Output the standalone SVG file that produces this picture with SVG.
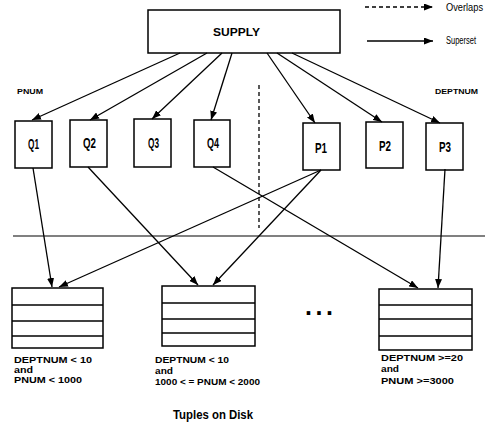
<svg xmlns="http://www.w3.org/2000/svg" width="485" height="429" viewBox="0 0 485 429">
<defs>
<marker id="ah" markerUnits="userSpaceOnUse" markerWidth="9" markerHeight="7" refX="9" refY="3.5" orient="auto"><path d="M0,0 L9,3.5 L0,7 z" fill="#000"/></marker>
<style>
.box{fill:#fff;stroke:#000;stroke-width:1.5}
.ln{stroke:#000;stroke-width:1.3;fill:none}
.arr{stroke:#000;stroke-width:1.3;fill:none;marker-end:url(#ah)}
.nl{font-family:"Liberation Sans",Arial,sans-serif;font-weight:bold;font-size:14px;fill:#000}
.lb{font-family:"Liberation Sans",Arial,sans-serif;font-weight:bold;font-size:9.5px;fill:#000}
.lg{font-family:"Liberation Sans",Arial,sans-serif;font-size:10px;fill:#000}
</style>
</defs>
<rect width="485" height="429" fill="#fff"/>
<g id="legend">
<line x1="365" y1="7" x2="433" y2="7" class="arr" stroke-dasharray="4,3"/>
<text x="446" y="11" class="lg" textLength="37" lengthAdjust="spacingAndGlyphs">Overlaps</text>
<line x1="367" y1="41" x2="433" y2="41" class="arr"/>
<text x="446" y="44" class="lg" textLength="30" lengthAdjust="spacingAndGlyphs">Superset</text>
</g>
<g id="supply">
<rect x="148" y="10" width="192" height="43" class="box"/>
<text x="213" y="36" class="lb" style="font-size:11.5px" textLength="47" lengthAdjust="spacingAndGlyphs">SUPPLY</text>
</g>
<text x="17" y="94" class="lb" style="font-size:8px" textLength="26" lengthAdjust="spacingAndGlyphs">PNUM</text>
<text x="435" y="94" class="lb" style="font-size:8px" textLength="43" lengthAdjust="spacingAndGlyphs">DEPTNUM</text>
<g id="Q1"><rect x="15" y="121" width="37" height="47" class="box"/><text x="28" y="149" class="nl" textLength="11" lengthAdjust="spacingAndGlyphs">Q1</text></g>
<g id="Q2"><rect x="70" y="120" width="37" height="47" class="box"/><text x="83" y="148" class="nl" textLength="13" lengthAdjust="spacingAndGlyphs">Q2</text></g>
<g id="Q3"><rect x="134" y="119" width="37" height="48" class="box"/><text x="148" y="148" class="nl" textLength="11" lengthAdjust="spacingAndGlyphs">Q3</text></g>
<g id="Q4"><rect x="194" y="120" width="36" height="47" class="box"/><text x="207" y="148" class="nl" textLength="12" lengthAdjust="spacingAndGlyphs">Q4</text></g>
<g id="P1"><rect x="303" y="123" width="37" height="47" class="box"/><text x="315" y="153" class="nl" textLength="12" lengthAdjust="spacingAndGlyphs">P1</text></g>
<g id="P2"><rect x="366" y="122" width="37" height="46" class="box"/><text x="379" y="151" class="nl" textLength="12" lengthAdjust="spacingAndGlyphs">P2</text></g>
<g id="P3"><rect x="426" y="123" width="37" height="47" class="box"/><text x="439" y="152" class="nl" textLength="12" lengthAdjust="spacingAndGlyphs">P3</text></g>
<g id="B1">
<rect x="12" y="288" width="91" height="60" class="box"/>
<line x1="12" y1="305" x2="103" y2="305" class="ln"/><line x1="12" y1="321" x2="103" y2="321" class="ln"/><line x1="12" y1="336" x2="103" y2="336" class="ln"/>
<text x="14" y="363" class="lb" textLength="78" lengthAdjust="spacingAndGlyphs">DEPTNUM &lt; 10</text>
<text x="14" y="373" class="lb" textLength="19" lengthAdjust="spacingAndGlyphs">and</text>
<text x="14" y="383" class="lb" textLength="68" lengthAdjust="spacingAndGlyphs">PNUM &lt; 1000</text>
</g>
<g id="B2">
<rect x="162" y="286" width="93" height="60" class="box"/>
<line x1="162" y1="303" x2="255" y2="303" class="ln"/><line x1="162" y1="319" x2="255" y2="319" class="ln"/><line x1="162" y1="333" x2="255" y2="333" class="ln"/>
<text x="155" y="363" class="lb" textLength="74" lengthAdjust="spacingAndGlyphs">DEPTNUM  &lt; 10</text>
<text x="155" y="374" class="lb" textLength="18" lengthAdjust="spacingAndGlyphs">and</text>
<text x="155" y="385" class="lb" textLength="105" lengthAdjust="spacingAndGlyphs">1000 &lt; = PNUM &lt; 2000</text>
</g>
<g id="B3">
<rect x="379" y="289" width="93" height="61" class="box"/>
<line x1="379" y1="305" x2="472" y2="305" class="ln"/><line x1="379" y1="319" x2="472" y2="319" class="ln"/><line x1="379" y1="336" x2="472" y2="336" class="ln"/>
<text x="381" y="361" class="lb" textLength="82" lengthAdjust="spacingAndGlyphs">DEPTNUM &gt;=20</text>
<text x="381" y="372" class="lb" textLength="18" lengthAdjust="spacingAndGlyphs">and</text>
<text x="381" y="384" class="lb" textLength="73" lengthAdjust="spacingAndGlyphs">PNUM &gt;=3000</text>
</g>
<text x="305" y="315" class="lb" style="font-size:25px" letter-spacing="3.6">...</text>
<text x="173" y="419" class="lb" style="font-size:12px" textLength="80" lengthAdjust="spacingAndGlyphs">Tuples on Disk</text>
<line x1="13" y1="236" x2="485" y2="236" stroke="#808080" stroke-width="2"/>
<line x1="259" y1="85" x2="259" y2="228" class="ln" stroke-width="1" stroke-dasharray="4,3"/>
<g id="connectors">
<line x1="180" y1="53" x2="32" y2="120" class="arr"/>
<line x1="207" y1="53" x2="90" y2="120" class="arr"/>
<line x1="222" y1="53" x2="152" y2="119" class="arr"/>
<line x1="232" y1="53" x2="211" y2="120" class="arr"/>
<line x1="267" y1="53" x2="315" y2="123" class="arr"/>
<line x1="277" y1="53" x2="382" y2="122" class="arr"/>
<line x1="292" y1="53" x2="440" y2="123" class="arr"/>
<line x1="33" y1="168" x2="52" y2="287" class="arr"/>
<line x1="321" y1="170" x2="59" y2="287" class="arr"/>
<line x1="88" y1="167" x2="198" y2="285" class="arr"/>
<line x1="321" y1="170" x2="213" y2="285" class="arr"/>
<line x1="213" y1="167" x2="418" y2="288" class="arr"/>
<line x1="445" y1="169" x2="438" y2="288" class="arr"/>
</g>
</svg>
